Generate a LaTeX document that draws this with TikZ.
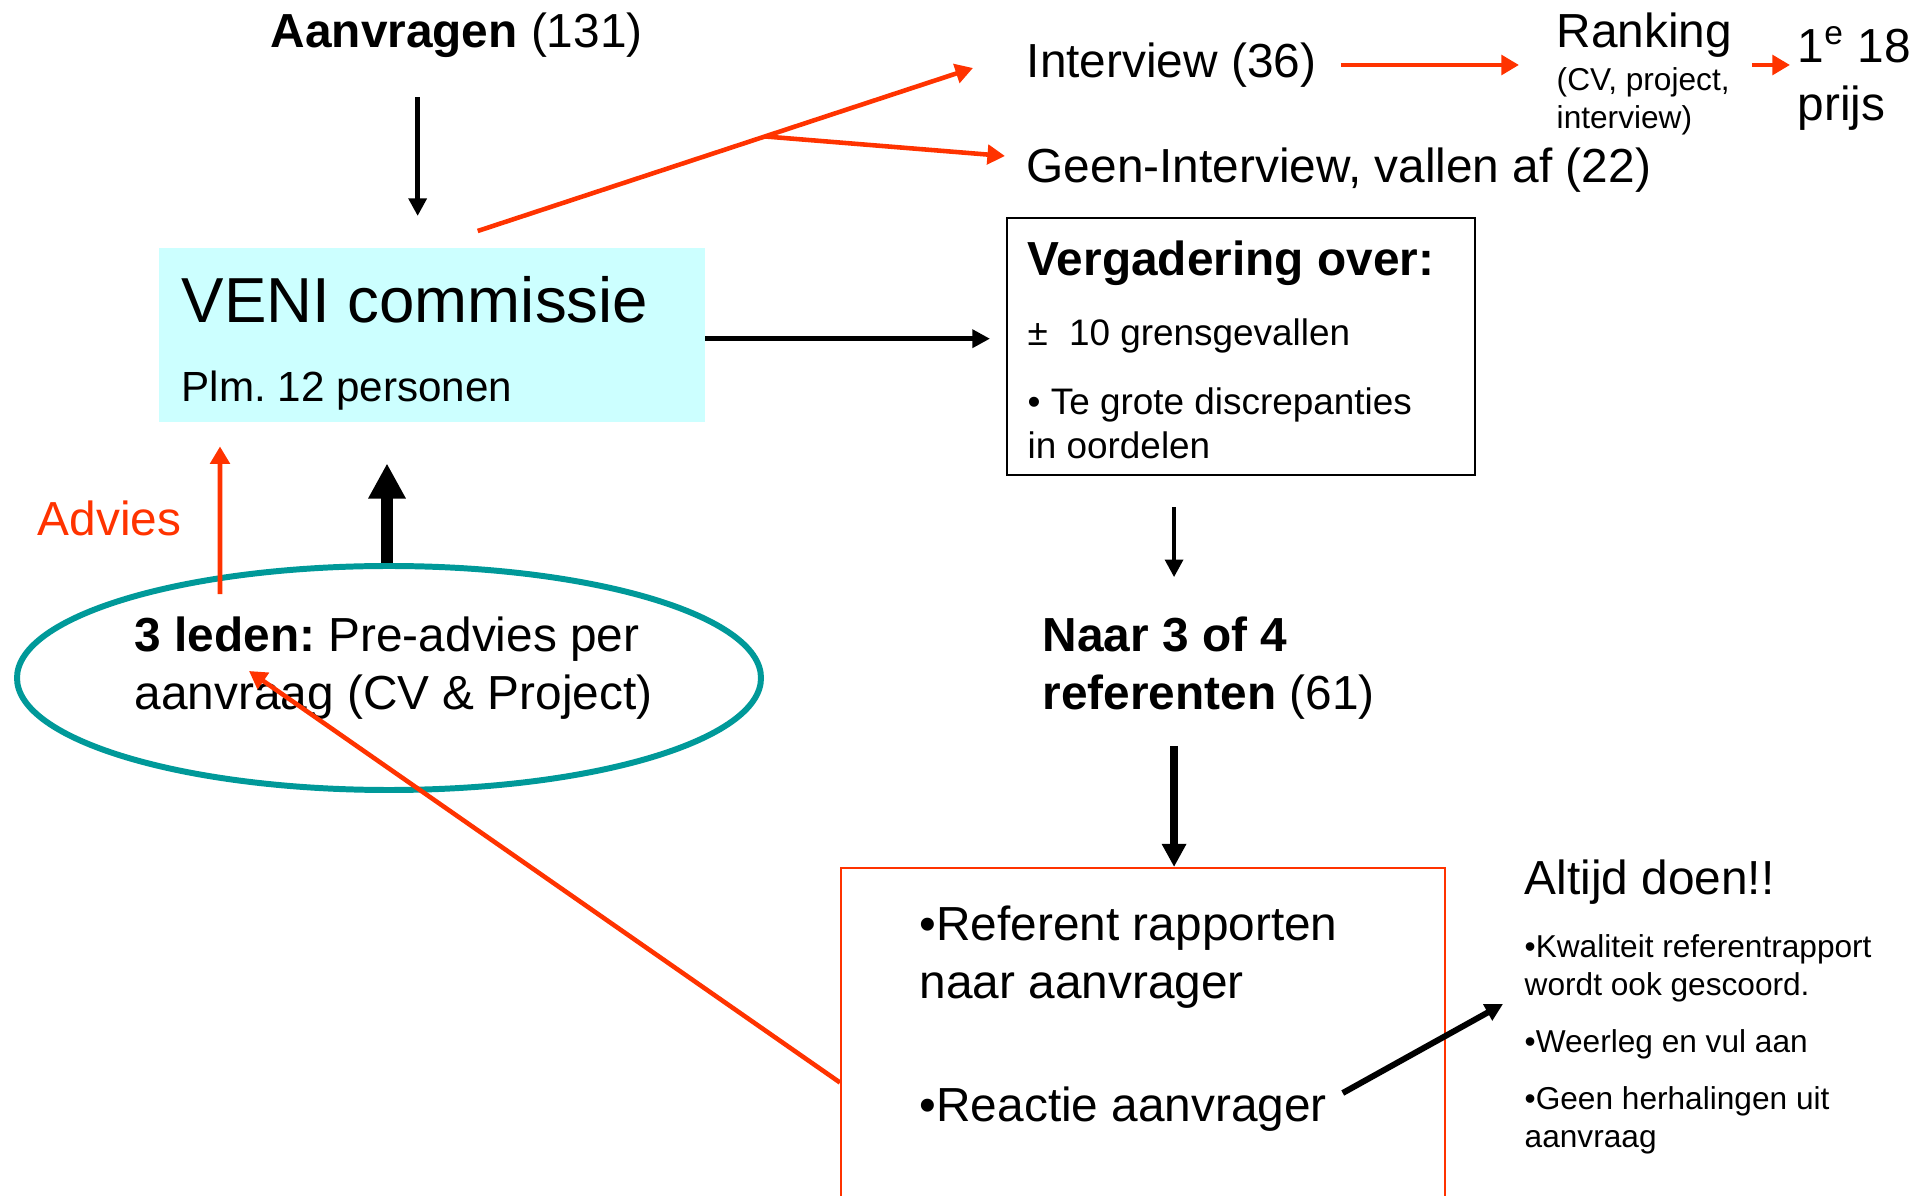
\documentclass[tikz,border=0pt]{standalone}
\usepackage{fontspec}
\setmainfont{Liberation Sans}
\frenchspacing
\usetikzlibrary{arrows.meta,shapes.geometric}

\definecolor{vred}{RGB}{255,51,0}
\definecolor{vcyan}{RGB}{204,255,255}
\definecolor{vteal}{RGB}{0,153,153}

\tikzset{
  txt/.style={anchor=west,inner sep=0pt,align=left,font=\fontsize{13.6}{16.4}\selectfont},
  smalltxt/.style={txt,font=\fontsize{9}{10.8}\selectfont},
  midtxt/.style={txt,font=\fontsize{10.5}{12.5}\selectfont},
  blackarrow/.style={>={Triangle[length=5pt,width=5pt]},->,line width=1.5pt},
  midarrow/.style={>={Triangle[length=6.6pt,width=6.6pt]},->,line width=2.2pt},
  fatarrow/.style={>={Triangle[length=10pt,width=10pt]},->,line width=3.4pt},
  redarrow/.style={>={Triangle[length=5pt,width=5.5pt]},->,draw=vred,line width=1.3pt},
}

\begin{document}
\begin{tikzpicture}
\useasboundingbox (0,0) rectangle (19.26,-11.96);

\node[fill=vcyan,anchor=north west,minimum width=5.46cm,minimum height=1.74cm] (veni) at (1.58,-2.47) {};
\node[draw,line width=0.6pt,anchor=north west,minimum width=4.68cm,minimum height=2.57cm] (verg) at (10.06,-2.17) {};
\node[draw=vred,line width=0.6pt,anchor=north west,minimum width=6.04cm,minimum height=3.63cm] (refbox) at (8.40,-8.67) {};
\node[draw=vteal,line width=1.7pt,ellipse,minimum width=7.44cm,minimum height=2.24cm] (ell) at (3.89,-6.78) {};

\node[txt] (aanvr) at (2.70,-0.35) {\textbf{Aanvragen} (131)};
\node[txt] (interview) at (10.26,-0.65) {Interview (36)};
\node[txt] (geen) at (10.26,-1.70) {Geen-Interview, vallen af (22)};
\node[txt] (rank) at (15.56,-0.35) {Ranking};
\node[smalltxt] (rankcrit) at (15.56,-1.01) {(CV, project,\\interview)};
\node[txt] (prijs) at (17.97,-0.78) {1\textsuperscript{e} 18\\prijs};
\node[txt,font=\fontsize{18.1}{21}\selectfont] (vtitle) at (1.81,-3.00) {VENI commissie};
\node[txt,font=\fontsize{12}{14}\selectfont] (vsub) at (1.81,-3.91) {Plm. 12 personen};
\node[txt] (vhead) at (10.27,-2.63) {\textbf{Vergadering over:}};
\node[midtxt] (vgrens) at (10.27,-3.36) {±\hspace{6pt}10 grensgevallen};
\node[midtxt] (vdiscr) at (10.27,-4.23) {• Te grote discrepanties\\in oordelen};
\node[txt] (naar) at (10.42,-6.68) {\textbf{Naar 3 of 4}\\\textbf{referenten} (61)};
\node[txt] (leden) at (1.34,-6.68) {\textbf{3 leden:} Pre-advies per\\aanvraag (CV \& Project)};
\node[txt,text=vred] (advies) at (0.37,-5.18) {Advies};
\node[txt] (refrap) at (9.19,-9.57) {•Referent rapporten\\naar aanvrager};
\node[txt] (reactie) at (9.19,-11.09) {•Reactie aanvrager};
\node[txt] (altijd) at (15.24,-8.82) {Altijd doen!!};
\node[smalltxt] (altlist) at (15.24,-10.44) {•Kwaliteit referentrapport\\wordt ook gescoord.\\[5.4pt]•Weerleg en vul aan\\[5.4pt]•Geen herhalingen uit\\aanvraag};

\draw[blackarrow,shorten <=0.39cm,shorten >=0.31cm] ([xshift=-0.39cm]aanvr.south) -- ([xshift=-0.39cm]aanvr.south |- veni.north);
\draw[redarrow] ([shift={(0.46,0.16)}]veni.north) -- coordinate[pos=0.58] (fork) ([shift={(-0.53,-0.03)}]interview.west);
\draw[redarrow] (fork) -- ([shift={(-0.21,0.14)}]geen.west);
\draw[redarrow] ([shift={(0.24,0)}]interview.east) -- ([shift={(-0.37,0)}]interview.east -| rank.west);
\draw[redarrow] ([shift={(0.19,0)}]interview.east -| rank.east) -- ([shift={(-0.07,0)}]interview.east -| prijs.west);
\draw[blackarrow,shorten >=0.16cm] ([yshift=-0.04cm]veni.east) -- ([yshift=-0.04cm]veni.east -| verg.west);
\draw[blackarrow,line width=1.2pt,shorten <=0.31cm,shorten >=0.39cm] ([xshift=-0.67cm]verg.south) -- ([xshift=-0.67cm]verg.south |- naar.north);
\draw[midarrow,shorten <=0.26cm] ([xshift=-0.67cm]verg.south |- naar.south) -- ([xshift=-0.67cm]verg.south |- refbox.north);
\draw[fatarrow,shorten >=0.41cm] ([xshift=-0.02cm]ell.north) -- ([xshift=-0.02cm]ell.north |- veni.south);
\draw[redarrow,shorten >=0.24cm] ([shift={(-1.69,-0.31)}]ell.north) -- ([xshift=-1.69cm]ell.north |- veni.south);
\draw[redarrow] ([yshift=-0.33cm]refbox.west) -- ([shift={(-1.40,0.07)}]ell.center);
\draw[blackarrow,line width=1.7pt] ([shift={(0.15,0.16)}]reactie.east) -- ([shift={(-0.21,0.40)}]altlist.west);
\end{tikzpicture}
\end{document}
